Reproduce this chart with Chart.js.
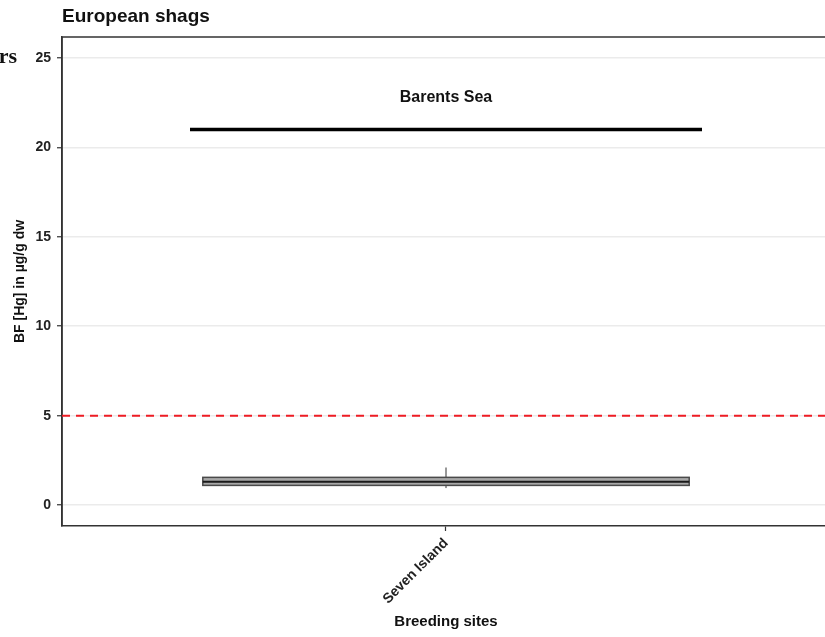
<!DOCTYPE html>
<html>
<head>
<meta charset="utf-8">
<script src="https://cdn.jsdelivr.net/npm/chart.js@4"></script>
<style>
  html, body { margin: 0; padding: 0; background: #fff; overflow: hidden; }
  #wrap { width: 832px; height: 637px; }
</style>
</head>
<body>
<div id="wrap"><canvas id="hgChart" width="832" height="637"></canvas></div>
<script>
const sites = ['Seven Island'];
const siteX = [1];
// box stats per site: min, q1, median, q3, max (µg/g dw)
const hgMin = [0.95];
const hgQ1 = [1.1];
const hgMedian = [1.3];
const hgQ3 = [1.55];
const hgMax = [2.1];

const threshold = 5;
const regionName = 'Barents Sea';
const regionSpan = [0.6, 1.4];
const regionLevel = 21;
const regionLabelLevel = 22.8;
const yTicks = [0, 5, 10, 15, 20, 25];

const font = "'Liberation Sans', Arial, sans-serif";

const boxPlugin = {
    id: 'boxes',
    beforeDatasetsDraw(chart) {
        const c = chart.ctx, x = chart.scales.x, y = chart.scales.y;
        const area = chart.chartArea;
        // panel border
        c.save();
        c.strokeStyle = '#333';
        c.lineWidth = 1.5;
        c.beginPath();
        c.moveTo(area.left, area.bottom);
        c.lineTo(area.left, area.top);
        c.lineTo(area.right, area.top);
        c.lineTo(area.right, area.bottom);
        c.stroke();

        siteX.forEach((sx, i) => {
            const xc = x.getPixelForValue(sx);
            const x0 = x.getPixelForValue(sx - 0.38);
            const x1 = x.getPixelForValue(sx + 0.38);
            c.strokeStyle = '#333';
            c.lineWidth = 1;
            c.beginPath();
            c.moveTo(xc, y.getPixelForValue(hgMax[i]));
            c.lineTo(xc, y.getPixelForValue(hgQ3[i]));
            c.moveTo(xc, y.getPixelForValue(hgQ1[i]));
            c.lineTo(xc, y.getPixelForValue(hgMin[i]));
            c.stroke();
            const top = y.getPixelForValue(hgQ3[i]);
            const bot = y.getPixelForValue(hgQ1[i]);
            c.fillStyle = '#a8a8a8';
            c.fillRect(x0, top, x1 - x0, bot - top);
            c.strokeStyle = '#4a4a4a';
            c.lineWidth = 1.5;
            c.strokeRect(x0, top, x1 - x0, bot - top);
            c.strokeStyle = '#1a1a1a';
            c.lineWidth = 2;
            c.beginPath();
            c.moveTo(x0, y.getPixelForValue(hgMedian[i]));
            c.lineTo(x1, y.getPixelForValue(hgMedian[i]));
            c.stroke();
        });
        c.restore();
    },
    afterDraw(chart) {
        const c = chart.ctx, x = chart.scales.x, y = chart.scales.y;
        c.save();
        c.fillStyle = '#111';
        c.font = 'bold 16px ' + font;
        c.textAlign = 'center';
        c.textBaseline = 'middle';
        c.fillText(regionName, x.getPixelForValue(1), y.getPixelForValue(regionLabelLevel));
        c.textAlign = 'left';
        c.font = 'bold 19px ' + font;
        c.fillText('European shags', chart.chartArea.left, 17);
        c.textAlign = 'right';
        c.font = 'bold 22px "Liberation Serif", serif';
        c.fillText('rs', 17, 57);
        c.restore();
    }
};

new Chart(document.getElementById('hgChart'), {
    type: 'line',
    data: {
        datasets: [{
            label: 'threshold',
            data: [{x: 0.4, y: threshold}, {x: 1.6, y: threshold}],
            borderColor: '#ee1c24',
            borderWidth: 2,
            borderDash: [8, 6],
            pointRadius: 0
        }, {
            label: regionName,
            data: regionSpan.map(v => ({x: v, y: regionLevel})),
            borderColor: '#000',
            borderWidth: 3.5,
            pointRadius: 0
        }]
    },
    options: {
        responsive: false,
        animation: false,
        layout: { padding: { top: 37, right: 2, left: 0, bottom: 0 } },
        plugins: { legend: { display: false }, tooltip: { enabled: false } },
        scales: {
            x: {
                type: 'linear',
                min: 0.4,
                max: 1.6,
                afterBuildTicks: s => { s.ticks = siteX.map(v => ({value: v})); },
                afterFit: s => { s.height = 111; },
                ticks: {
                    callback: (v) => sites[siteX.indexOf(v)],
                    minRotation: 45,
                    maxRotation: 45,
                    color: '#222',
                    font: { family: font, size: 14, weight: 'bold' },
                    padding: 4
                },
                grid: { drawOnChartArea: false, tickColor: '#333', tickLength: 5, tickWidth: 1.2 },
                border: { color: '#333', width: 1.5 },
                title: {
                    display: true,
                    text: 'Breeding sites',
                    color: '#111',
                    font: { family: font, size: 15, weight: 'bold' },
                    padding: { top: 0, bottom: 6 }
                }
            },
            y: {
                min: -1.17,
                max: 26.17,
                afterBuildTicks: s => { s.ticks = yTicks.map(v => ({value: v})); },
                afterFit: s => { s.width = 62; },
                ticks: {
                    color: '#222',
                    font: { family: font, size: 14, weight: 'bold' },
                    padding: 6
                },
                grid: { color: '#ebebeb', lineWidth: 1.5, tickColor: '#333', tickLength: 5, tickWidth: 1.2 },
                border: { color: '#333', width: 1.5 },
                title: {
                    display: true,
                    text: 'BF [Hg] in µg/g dw',
                    color: '#111',
                    font: { family: font, size: 14, weight: 'bold' },
                    padding: { top: 12, bottom: 0 }
                }
            }
        }
    },
    plugins: [boxPlugin]
});
</script>
</body>
</html>
